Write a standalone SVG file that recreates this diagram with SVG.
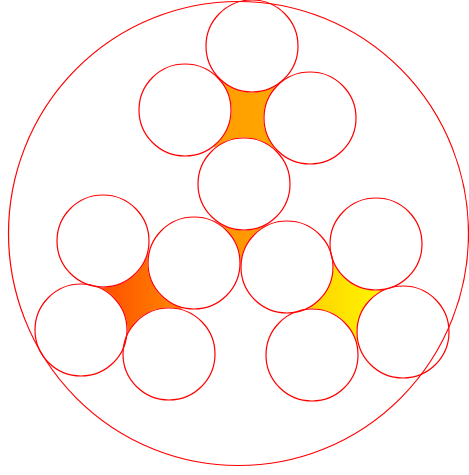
<svg xmlns="http://www.w3.org/2000/svg" width="469" height="475" viewBox="0 0 469 475">
<defs>
<linearGradient id="gTop" x1="0" y1="0" x2="1" y2="0"><stop offset="0" stop-color="#ff9600"/><stop offset="1" stop-color="#ffae00"/></linearGradient>
<linearGradient id="gMid" x1="0" y1="0" x2="1" y2="0"><stop offset="0" stop-color="#ff9000"/><stop offset="1" stop-color="#ffa000"/></linearGradient>
<linearGradient id="gLeft" x1="0" y1="0" x2="1" y2="0"><stop offset="0" stop-color="#ff4000"/><stop offset="1" stop-color="#ff9000"/></linearGradient>
<linearGradient id="gRight" x1="0" y1="0" x2="1" y2="0"><stop offset="0" stop-color="#ffc800"/><stop offset="1" stop-color="#ffff00"/></linearGradient>
</defs>
<style>
.cover{fill:#fff;stroke:none}
.ring{fill:none;stroke:#ff0000;stroke-width:1.2}
</style>
<rect width="469" height="475" fill="#fff"/>
<g id="gaps">
<polygon id="gap-top" points="252,46 310,118 244,184 185,110" fill="url(#gTop)"/>
<polygon id="gap-mid" points="244,184 287,267 194,263" fill="url(#gMid)"/>
<polygon id="gap-left" points="103,241 194,263 169,354 81,330" fill="url(#gLeft)"/>
<polygon id="gap-right" points="376,244 403,332 312,355 287,267" fill="url(#gRight)"/>
</g>
<g id="covers">
<circle class="cover" cx="252" cy="46" r="46.6"/>
<circle class="cover" cx="185" cy="110" r="46.6"/>
<circle class="cover" cx="310" cy="118" r="46.6"/>
<circle class="cover" cx="244" cy="184" r="46.6"/>
<circle class="cover" cx="103" cy="241" r="46.6"/>
<circle class="cover" cx="194" cy="263" r="46.6"/>
<circle class="cover" cx="287" cy="267" r="46.6"/>
<circle class="cover" cx="376" cy="244" r="46.6"/>
<circle class="cover" cx="81" cy="330" r="46.6"/>
<circle class="cover" cx="169" cy="354" r="46.6"/>
<circle class="cover" cx="312" cy="355" r="46.6"/>
<circle class="cover" cx="403" cy="332" r="46.6"/>
</g>
<g id="outer"><ellipse class="ring" cx="238.5" cy="233.5" rx="230" ry="232"/></g>
<g id="c1"><circle class="ring" cx="252" cy="46" r="46"/></g>
<g id="c2"><circle class="ring" cx="185" cy="110" r="46"/></g>
<g id="c3"><circle class="ring" cx="310" cy="118" r="46"/></g>
<g id="c4"><circle class="ring" cx="244" cy="184" r="46"/></g>
<g id="c5"><circle class="ring" cx="103" cy="241" r="46"/></g>
<g id="c6"><circle class="ring" cx="194" cy="263" r="46"/></g>
<g id="c7"><circle class="ring" cx="287" cy="267" r="46"/></g>
<g id="c8"><circle class="ring" cx="376" cy="244" r="46"/></g>
<g id="c9"><circle class="ring" cx="81" cy="330" r="46"/></g>
<g id="c10"><circle class="ring" cx="169" cy="354" r="46"/></g>
<g id="c11"><circle class="ring" cx="312" cy="355" r="46"/></g>
<g id="c12"><circle class="ring" cx="403" cy="332" r="46"/></g>
</svg>
